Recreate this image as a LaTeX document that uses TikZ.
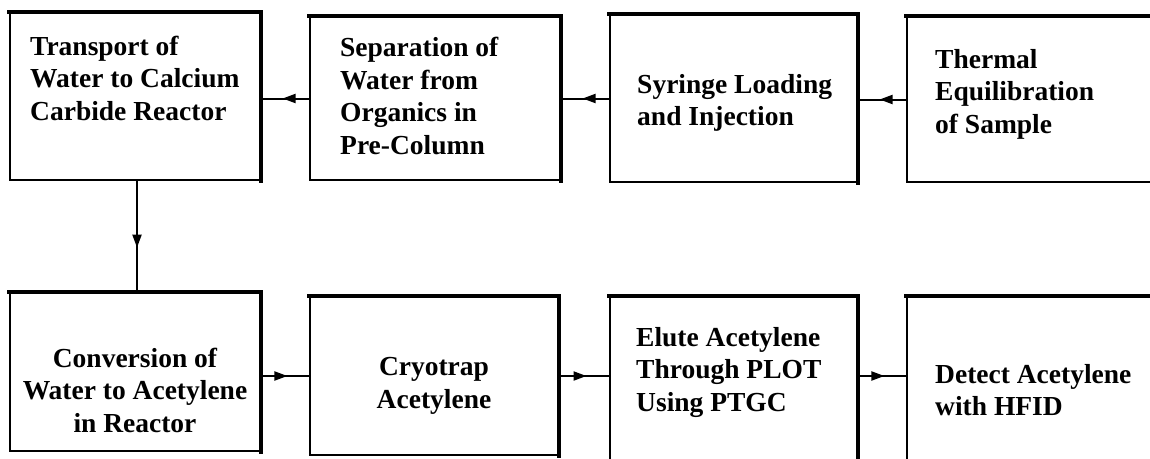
\documentclass[tikz,border=0pt]{standalone}
\usepackage{fontspec}
\setmainfont{Liberation Serif}
\usetikzlibrary{arrows.meta,decorations.markings}
\begin{document}
\begin{tikzpicture}[x=1pt,y=-1pt,
  box/.style={draw, line width=1.8pt, inner sep=0pt, minimum width=#1},
  box/.default=250pt,
  thickedge/.style={line width=4.3pt, line cap=rect},
  txt/.style={font=\bfseries\fontsize{27.5}{32.5}\selectfont, inner sep=0pt, align=left},
  ctxt/.style={font=\bfseries\fontsize{27.5}{32.5}\selectfont, inner sep=0pt, align=center},
  flow/.style={line width=2pt, postaction={decorate},
    decoration={markings, mark=at position #1 with {\arrow{Triangle[length=13pt,width=9pt]}}}},
  flow/.default=0.55
]
\useasboundingbox (0,0) rectangle (1150,458);
\clip (0,0) rectangle (1150,458);

% top row
\node[box, minimum height=167pt] (b1) at (135,96.5) {};
\node[box, minimum height=163pt] (b2) at (435,98.5) {};
\node[box=247pt, minimum height=167pt] (b3) at (733.5,98.5) {};
\node[box=263pt, minimum height=165pt] (b4) at (1038.5,99.5) {};
% bottom row
\node[box, minimum height=158pt] (b5) at (135,372) {};
\node[box=248pt, minimum height=158pt] (b6) at (434,376) {};
\node[box=247pt, minimum height=178pt] (b7) at (733.5,386) {};
\node[box=263pt, minimum height=178pt] (b8) at (1038.5,386) {};

\foreach \b in {b1,b2,b3,b4,b5,b6,b7,b8}
  \draw[thickedge] (\b.north west) -- (\b.north east) -- (\b.south east);

% texts
\node[txt, anchor=west] (t1) at (30,78) {Transport of\\Water to Calcium\\Carbide Reactor};
\node[txt, anchor=west] (t2) at (340,96) {Separation of\\Water from\\Organics in\\Pre-Column};
\node[txt, anchor=west] (t3) at (637,103) {Syringe Loading\\and Injection};
\node[txt, anchor=west] (t4) at (935,94) {Thermal\\Equilibration\\of Sample};
\node[ctxt] (t5) at (135,390) {Conversion of\\Water to Acetylene\\in Reactor};
\node[ctxt] (t6) at (434,386) {Cryotrap\\Acetylene};
\node[txt, anchor=west] (t7) at (636,372) {Elute Acetylene\\Through PLOT\\Using PTGC};
\node[txt, anchor=west] (t8) at (935,390) {Detect Acetylene\\with HFID};

% connectors
\draw[flow] (b2.west) -- (b1.east |- b2.west);
\draw[flow] (b3.west) -- (b2.east |- b3.west);
\draw[flow] (b4.west) -- (b3.east |- b4.west);
\draw[flow=0.6] (b1.south -| 137,0) -- (b5.north -| 137,0);
\draw[flow] (b5.east |- b6.west) -- (b6.west);
\draw[flow] (b6.east) -- (b7.west |- b6.east);
\draw[flow] (b7.east |- b6.east) -- (b8.west |- b6.east);
\end{tikzpicture}
\end{document}
